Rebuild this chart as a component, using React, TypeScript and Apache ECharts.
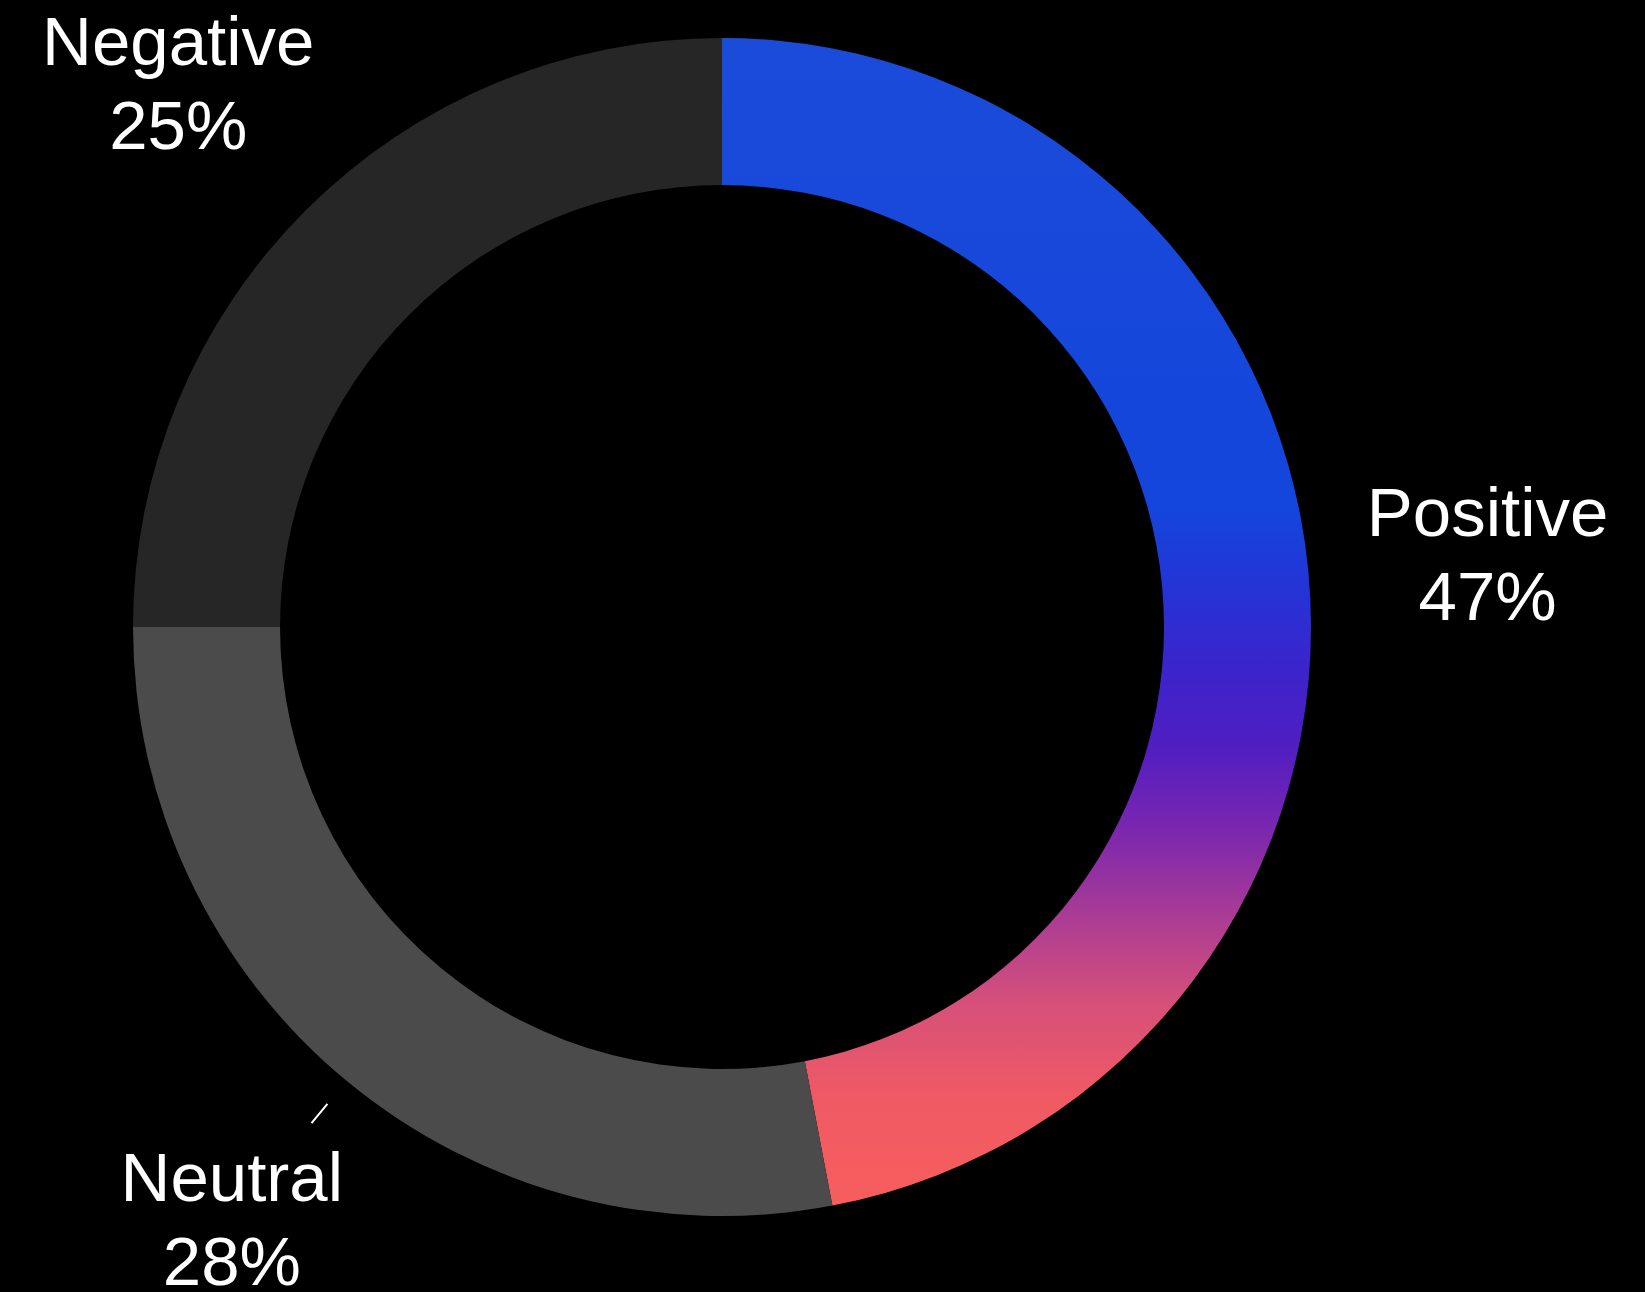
import React, { useEffect, useRef } from "react";
import * as echarts from "echarts";

const categories = ["Positive", "Neutral", "Negative"];
const values = [47, 28, 25];
const sliceColors = ["gradient", "#4b4b4b", "#262626"];

const W = 1645;
const H = 1292;

export default function App() {
  const ref = useRef<HTMLDivElement>(null);
  useEffect(() => {
    document.body.style.margin = "0";
    document.body.style.background = "#000";
    const chart = echarts.init(ref.current!, null, { renderer: "svg" });
    const cx = 722;
    const cy = 627;
    const outer = 589;
    const inner = 442;
    const gradient = new echarts.graphic.LinearGradient(
      0,
      cy - outer,
      0,
      cy + outer,
      [
        { offset: 0, color: "#1a4bd9" },
        { offset: 0.4, color: "#1445dc" },
        { offset: 0.47, color: "#2533d5" },
        { offset: 0.53, color: "#3a25cc" },
        { offset: 0.6, color: "#4f1ec2" },
        { offset: 0.67, color: "#7a26b0" },
        { offset: 0.76, color: "#b3408f" },
        { offset: 0.82, color: "#d6507a" },
        { offset: 0.9, color: "#f05a64" },
        { offset: 1, color: "#f75e5c" },
      ],
      true
    );
    const ringData = categories.map((name, i) => ({
      name,
      value: values[i],
      itemStyle: { color: sliceColors[i] === "gradient" ? gradient : sliceColors[i] },
    }));
    const font = "Helvetica, 'Liberation Sans', Arial, sans-serif";
    chart.setOption({
      animation: false,
      backgroundColor: "#000",
      series: [
        {
          type: "pie",
          center: [cx, cy],
          radius: [inner, outer],
          startAngle: 90,
          silent: true,
          label: { show: false },
          labelLine: { show: false },
          data: ringData,
        },
        {
          type: "pie",
          center: [cx, cy],
          radius: [760, 772],
          startAngle: 90,
          silent: true,
          percentPrecision: 0,
          itemStyle: { color: "rgba(0,0,0,0)" },
          label: {
            show: true,
            position: "inside",
            formatter: "{b}\n{d}%",
            color: "#fff",
            fontSize: 69,
            lineHeight: 84,
            fontFamily: font,
            align: "center",
          },
          data: categories.map((name, i) => ({ name, value: values[i] })),
        },
        {
          type: "pie",
          center: [cx, cy],
          radius: [617, 619],
          startAngle: 90,
          silent: true,
          itemStyle: { color: "rgba(0,0,0,0)" },
          avoidLabelOverlap: false,
          label: { show: false },
          labelLine: { show: false },
          data: categories.map((name, i) =>
            name === "Neutral"
              ? {
                  name,
                  value: values[i],
                  label: { show: true, position: "outside", formatter: " ", fontSize: 1 },
                  labelLine: {
                    show: true,
                    length: 25,
                    length2: 0,
                    smooth: false,
                    lineStyle: { color: "#fff", width: 2 },
                  },
                }
              : { name, value: values[i] }
          ),
        },
      ],
    });
    return () => chart.dispose();
  }, []);
  return (
    <div
      ref={ref}
      style={{ position: "absolute", left: 0, top: 0, width: W, height: H, background: "#000" }}
    />
  );
}
